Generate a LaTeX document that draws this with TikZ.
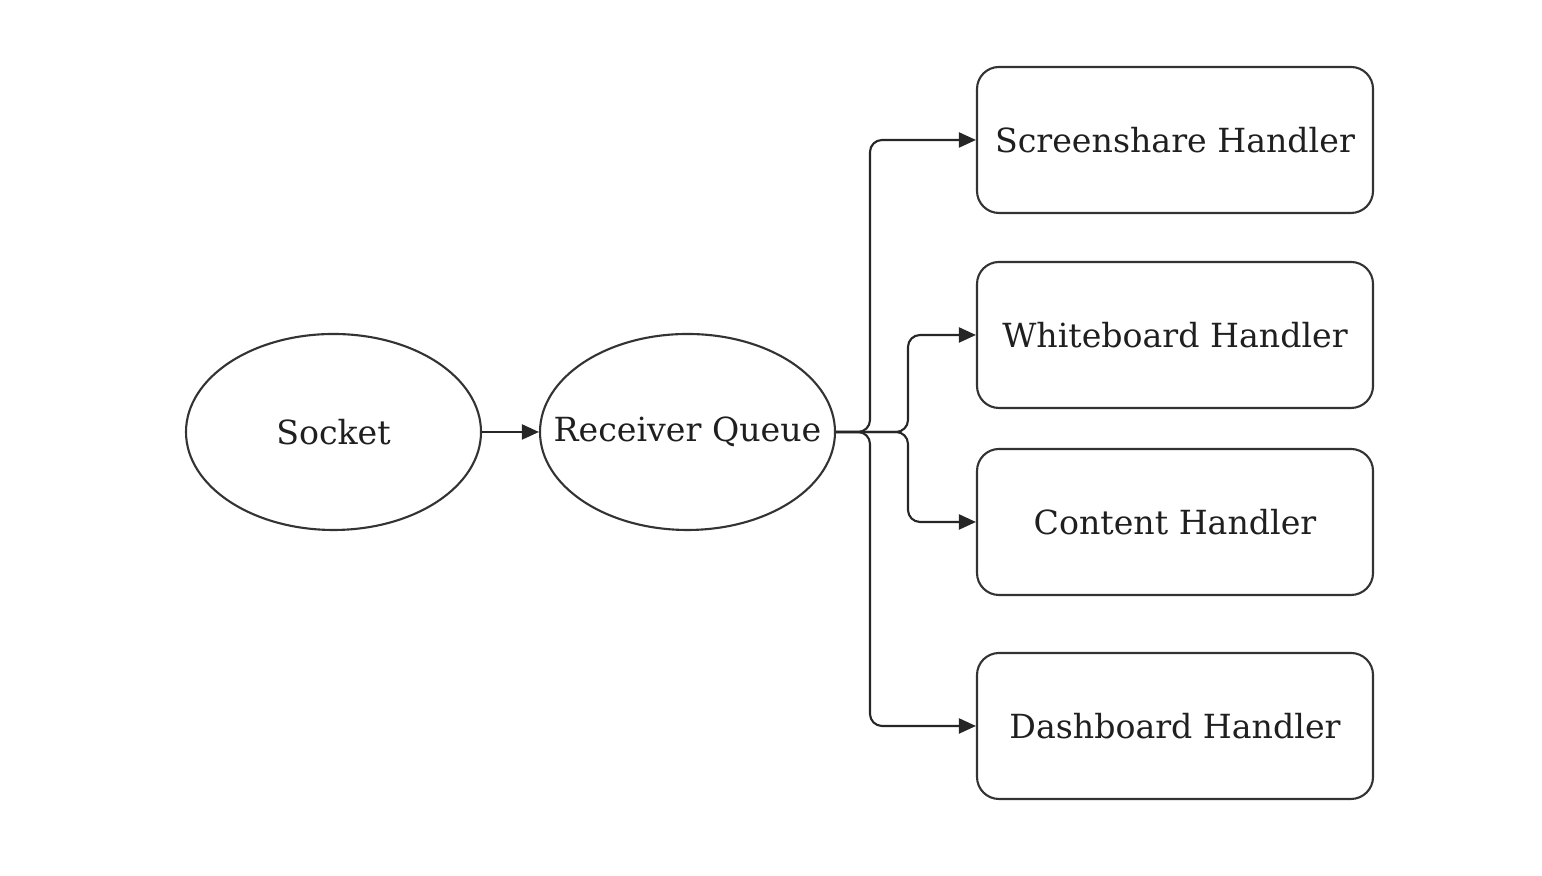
\documentclass[tikz,border=0pt]{standalone}
\usepackage{fontspec}
\setmainfont{DejaVu Serif}
\usetikzlibrary{arrows.meta,shapes.geometric}
\begin{document}
\begin{tikzpicture}[
    every node/.style={font=\fontsize{9.45}{11}\selectfont, text=black!88},
    oval/.style={draw=black!80, line width=0.6pt, ellipse, minimum width=2.95cm, minimum height=1.96cm, inner sep=0pt},
    handler/.style={draw=black!80, line width=0.6pt, rounded corners=0.22cm, minimum width=3.96cm, minimum height=1.46cm},
    flow/.style={draw=black!85, line width=0.6pt, rounded corners=0.12cm, -{Triangle[length=0.17cm, width=0.15cm]}}
]
            \useasboundingbox (0,0) rectangle (15.42,8.76);
            \node[oval, label=center:Socket] (sock) at (3.335,4.44) {};
            \node[oval, label=center:Receiver Queue] (rq) at (6.875,4.44) {};
            \draw[flow] (sock) -- (rq);

            \node[handler] (sh) at (11.75,7.36) {Screenshare Handler};
            \node[handler] (wb) at (11.75,5.41) {Whiteboard Handler};
            \node[handler] (ct) at (11.75,3.54) {Content Handler};
            \node[handler] (db) at (11.75,1.50) {Dashboard Handler};

            \coordinate (outer) at (8.70,4.44);
            \coordinate (inner) at (9.08,4.44);
            \draw[flow] (rq.east) -- (outer) |- (sh.west);
            \draw[flow] (rq.east) -- (inner) |- (wb.west);
            \draw[flow] (rq.east) -- (inner) |- (ct.west);
            \draw[flow] (rq.east) -- (outer) |- (db.west);
        \end{tikzpicture}
\end{document}
